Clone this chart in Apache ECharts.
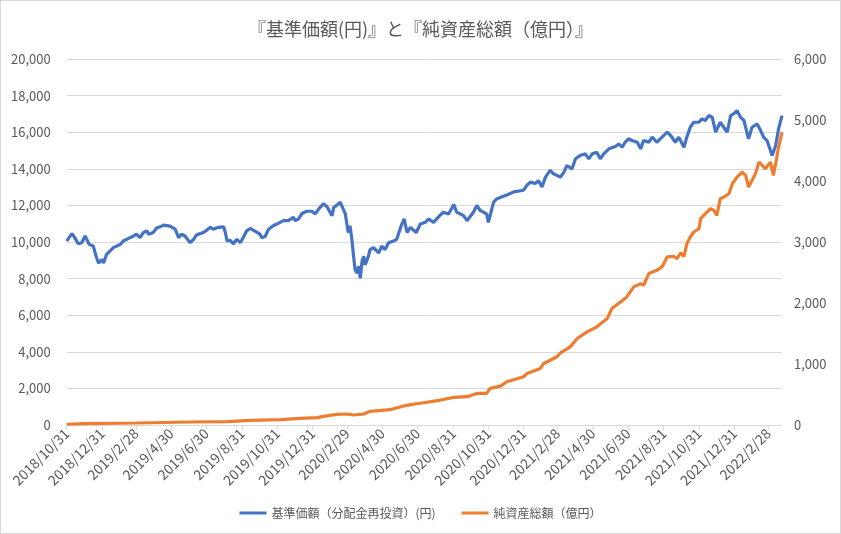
<!DOCTYPE html>
<html>
<head>
<meta charset="utf-8">
<script src="https://cdn.jsdelivr.net/npm/echarts@6/dist/echarts.min.js"></script>
<style>
html, body { margin: 0; padding: 0; background: #fff; }
#chart { position: absolute; left: 0; top: 0; width: 841px; height: 534px; }
#frame { position: absolute; left: 0; top: 0; width: 841px; height: 534px; box-sizing: border-box; border: 1px solid #d9d9d9; pointer-events: none; }
</style>
</head>
<body>
<div id="chart"></div>
<div id="frame"></div>
<script>
'use strict';
const chartTitle = '『基準価額(円)』と『純資産総額（億円）』';
const navName = '基準価額（分配金再投資）(円)';
const aumName = '純資産総額（億円）';

// 軸ラベルの日付（2か月ごと）
const labelDates = [
    '2018-10-31', '2018-12-31', '2019-02-28', '2019-04-30', '2019-06-30', '2019-08-31',
    '2019-10-31', '2019-12-31', '2020-02-29', '2020-04-30', '2020-06-30', '2020-08-31',
    '2020-10-31', '2020-12-31', '2021-02-28', '2021-04-30', '2021-06-30', '2021-08-31',
    '2021-10-31', '2021-12-31', '2022-02-28'
];

// 基準価額（円）
const navDates = [
    '2018-10-31', '2018-11-09', '2018-11-14', '2018-11-20', '2018-11-26', '2018-12-02', '2018-12-09',
    '2018-12-16', '2018-12-21', '2018-12-25', '2018-12-31', '2019-01-03', '2019-01-08', '2019-01-14',
    '2019-01-20', '2019-01-26', '2019-02-01', '2019-02-06', '2019-02-18', '2019-02-24', '2019-03-01',
    '2019-03-07', '2019-03-13', '2019-03-19', '2019-03-22', '2019-03-30', '2019-04-05', '2019-04-11',
    '2019-04-17', '2019-04-28', '2019-05-07', '2019-05-13', '2019-05-18', '2019-05-24', '2019-06-02',
    '2019-06-08', '2019-06-13', '2019-06-25', '2019-07-01', '2019-07-07', '2019-07-12', '2019-07-21',
    '2019-07-30', '2019-08-02', '2019-08-05', '2019-08-10', '2019-08-16', '2019-08-22', '2019-08-28',
    '2019-09-02', '2019-09-08', '2019-09-14', '2019-09-26', '2019-10-01', '2019-10-04', '2019-10-10',
    '2019-10-16', '2019-10-24', '2019-10-30', '2019-11-11', '2019-11-19', '2019-11-28', '2019-12-01',
    '2019-12-07', '2019-12-13', '2019-12-21', '2019-12-30', '2020-01-05', '2020-01-11', '2020-01-19',
    '2020-01-25', '2020-02-03', '2020-02-06', '2020-02-11', '2020-02-17', '2020-02-20', '2020-02-26',
    '2020-03-02', '2020-03-05', '2020-03-08', '2020-03-11', '2020-03-14', '2020-03-17', '2020-03-20',
    '2020-03-23', '2020-03-26', '2020-03-29', '2020-03-31', '2020-04-03', '2020-04-06', '2020-04-09',
    '2020-04-15', '2020-04-24', '2020-04-29', '2020-05-05', '2020-05-11', '2020-05-20', '2020-05-25',
    '2020-05-28', '2020-06-03', '2020-06-07', '2020-06-12', '2020-06-18', '2020-06-28', '2020-07-05',
    '2020-07-14', '2020-07-19', '2020-07-28', '2020-08-06', '2020-08-14', '2020-08-23', '2020-09-01',
    '2020-09-06', '2020-09-18', '2020-09-24', '2020-10-05', '2020-10-11', '2020-10-17', '2020-10-28',
    '2020-10-31', '2020-11-09', '2020-11-15', '2020-11-26', '2020-12-05', '2020-12-14', '2020-12-31',
    '2021-01-06', '2021-01-12', '2021-01-20', '2021-01-26', '2021-02-01', '2021-02-07', '2021-02-15',
    '2021-02-21', '2021-03-05', '2021-03-11', '2021-03-16', '2021-03-25', '2021-03-31', '2021-04-08',
    '2021-04-17', '2021-04-23', '2021-04-29', '2021-05-07', '2021-05-13', '2021-05-19', '2021-05-28',
    '2021-06-08', '2021-06-14', '2021-06-20', '2021-06-25', '2021-07-01', '2021-07-07', '2021-07-16',
    '2021-07-22', '2021-07-27', '2021-08-05', '2021-08-11', '2021-08-19', '2021-08-28', '2021-09-06',
    '2021-09-12', '2021-09-20', '2021-09-26', '2021-10-05', '2021-10-10', '2021-10-16', '2021-10-22',
    '2021-10-31', '2021-11-05', '2021-11-11', '2021-11-17', '2021-11-23', '2021-11-29', '2021-12-01',
    '2021-12-07', '2021-12-13', '2021-12-19', '2021-12-25', '2021-12-30', '2022-01-05', '2022-01-11',
    '2022-01-17', '2022-01-25', '2022-01-31', '2022-02-09', '2022-02-15', '2022-02-20', '2022-02-26',
    '2022-03-07', '2022-03-13', '2022-03-18', '2022-03-24'
];
const navValues = [
    10050, 10460, 10240, 9900, 9960, 10330, 9870,
    9780, 9220, 8850, 9040, 8850, 9320, 9500,
    9690, 9780, 9870, 10055, 10240, 10330, 10425,
    10240, 10520, 10610, 10425, 10520, 10760, 10830,
    10925, 10870, 10700, 10240, 10425, 10330, 9960,
    10150, 10390, 10520, 10650, 10800, 10700, 10800,
    10830, 10520, 10055, 10100, 9900, 10150, 9960,
    10240, 10610, 10740, 10520, 10425, 10240, 10300,
    10700, 10890, 10980, 11165, 11165, 11350, 11165,
    11260, 11560, 11680, 11680, 11535, 11810, 12090,
    11940, 11440, 11900, 12000, 12180, 12240, 11535,
    10520, 10890, 10240, 9315, 8480, 8300, 8670,
    8020, 8945, 9225, 8760, 8945, 9225, 9590,
    9685, 9410, 9780, 9590, 9960, 10055, 10150,
    10425, 10980, 11260, 10520, 10795, 10520, 10980,
    11075, 11260, 11075, 11390, 11630, 11535, 12050,
    11630, 11440, 11165, 11630, 12000, 11720, 11535,
    11075, 12180, 12370, 12500, 12610, 12740, 12830,
    13110, 13270, 13200, 13350, 13000, 13545, 13910,
    13730, 13545, 13820, 14180, 14000, 14545, 14730,
    14820, 14545, 14820, 14910, 14545, 14820, 15090,
    15220, 15360, 15180, 15450, 15640, 15545, 15450,
    15090, 15545, 15450, 15730, 15450, 15730, 16000,
    15820, 15450, 15730, 15180, 15730, 16270, 16545,
    16545, 16730, 16640, 16910, 16820, 16000, 15945,
    16545, 16270, 16000, 16910, 17000, 17180, 16820,
    16640, 15640, 16270, 16450, 16090, 15730, 15545,
    14730, 15270, 16180, 16910
];

// 純資産総額（億円）
const aumDates = [
    '2018-10-31', '2018-11-29', '2019-03-01', '2019-06-02', '2019-08-05', '2019-09-14', '2019-11-05',
    '2019-12-10', '2020-01-08', '2020-01-19', '2020-02-11', '2020-02-29', '2020-03-11', '2020-03-29',
    '2020-04-09', '2020-05-14', '2020-06-06', '2020-06-18', '2020-07-11', '2020-08-09', '2020-09-01',
    '2020-09-24', '2020-10-11', '2020-10-28', '2020-11-03', '2020-11-21', '2020-12-02', '2020-12-31',
    '2021-01-06', '2021-01-29', '2021-02-04', '2021-02-27', '2021-03-05', '2021-03-22', '2021-04-03',
    '2021-04-20', '2021-05-07', '2021-05-25', '2021-06-02', '2021-06-17', '2021-06-28', '2021-07-10',
    '2021-07-22', '2021-07-27', '2021-08-05', '2021-08-19', '2021-08-28', '2021-09-06', '2021-09-17',
    '2021-09-23', '2021-09-29', '2021-10-05', '2021-10-10', '2021-10-16', '2021-10-22', '2021-10-31',
    '2021-11-03', '2021-11-14', '2021-11-20', '2021-11-26', '2021-12-01', '2021-12-07', '2021-12-13',
    '2021-12-22', '2021-12-28', '2022-01-05', '2022-01-14', '2022-01-20', '2022-01-25', '2022-01-31',
    '2022-02-06', '2022-02-12', '2022-02-18', '2022-02-23', '2022-03-04', '2022-03-09', '2022-03-13',
    '2022-03-17', '2022-03-24'
];
const aumValues = [
    12, 22, 33, 49, 55, 76, 87,
    109, 120, 142, 175, 180, 164, 180,
    224, 251, 311, 333, 365, 409, 453,
    464, 518, 518, 600, 638, 709, 791,
    845, 927, 1009, 1118, 1184, 1282, 1418,
    1527, 1609, 1745, 1909, 2018, 2100, 2264,
    2318, 2290, 2482, 2536, 2591, 2755, 2766,
    2727, 2820, 2766, 2973, 3082, 3164, 3218,
    3382, 3491, 3545, 3518, 3436, 3709, 3736,
    3791, 3955, 4064, 4145, 4091, 3900, 4009,
    4118, 4309, 4255, 4200, 4309, 4091, 4282,
    4500, 4800
];

const leftTicks = { min: 0, max: 20000, interval: 2000 };
const rightTicks = { min: 0, max: 6000, interval: 1000 };

const fontFamily = '"Noto Sans CJK JP", "Noto Sans", sans-serif';
const textColor = '#595959';
const gridColor = '#d9d9d9';

// 'YYYY-MM-DD' -> タイムスタンプ（ローカル）
function toStamp(s) {
    const p = s.split('-');
    return new Date(+p[0], +p[1] - 1, +p[2]).getTime();
}

function pairUp(dates, values) {
    return dates.map((d, i) => [toStamp(d), values[i]]);
}

function fmtDate(val) {
    const d = new Date(val);
    return d.getFullYear() + '/' + (d.getMonth() + 1) + '/' + d.getDate();
}

function fmtNum(val) {
    return Number(val).toLocaleString('en-US');
}

function init() {
    const chart = echarts.init(document.getElementById('chart'));
    const tickStamps = labelDates.map(toStamp);
    const option = {
        animation: false,
        color: ['#4472c4', '#ed7d31'],
        textStyle: { fontFamily: fontFamily },
        title: {
            text: chartTitle,
            left: 'center',
            top: 15,
            textStyle: { fontSize: 18, fontWeight: 'normal', color: textColor, fontFamily: fontFamily },
        },
        legend: {
            bottom: 10,
            left: 'center',
            icon: 'rect',
            itemWidth: 27,
            itemHeight: 3,
            itemGap: 26,
            textStyle: { fontSize: 12, color: textColor, fontFamily: fontFamily },
            data: [navName, aumName],
        },
        grid: {
            left: 66.7,
            right: 59,
            top: 59,
            bottom: 109,
        },
        xAxis: {
            type: 'value',
            min: toStamp(navDates[0]),
            max: toStamp(navDates[navDates.length - 1]),
            axisLine: { show: true, lineStyle: { color: gridColor, width: 1 } },
            axisTick: { show: true, length: 5, lineStyle: { color: gridColor }, customValues: tickStamps },
            axisLabel: {
                customValues: tickStamps,
                rotate: 45,
                margin: 6,
                fontSize: 14,
                color: textColor,
                fontFamily: fontFamily,
                formatter: fmtDate,
                hideOverlap: false,
                showMinLabel: true,
                showMaxLabel: true,
            },
            splitLine: { show: false },
        },
        yAxis: [
            {
                type: 'value',
                min: leftTicks.min,
                max: leftTicks.max,
                interval: leftTicks.interval,
                axisLine: { show: false },
                axisTick: { show: false },
                axisLabel: { fontSize: 13, color: textColor, margin: 16, formatter: fmtNum, fontFamily: fontFamily },
                splitLine: { lineStyle: { color: gridColor, width: 1 } },
            },
            {
                type: 'value',
                min: rightTicks.min,
                max: rightTicks.max,
                interval: rightTicks.interval,
                axisLine: { show: false },
                axisTick: { show: false },
                axisLabel: { fontSize: 13, color: textColor, margin: 12, formatter: fmtNum, fontFamily: fontFamily },
                splitLine: { show: false },
            },
        ],
        series: [
            {
                name: navName,
                type: 'line',
                yAxisIndex: 0,
                symbol: 'none',
                lineStyle: { width: 3.2 },
                data: pairUp(navDates, navValues),
            },
            {
                name: aumName,
                type: 'line',
                yAxisIndex: 1,
                symbol: 'none',
                lineStyle: { width: 3.2 },
                data: pairUp(aumDates, aumValues),
            },
        ],
    };
    chart.setOption(option);
}

(function () {
    init();
})();
</script>
</body>
</html>
